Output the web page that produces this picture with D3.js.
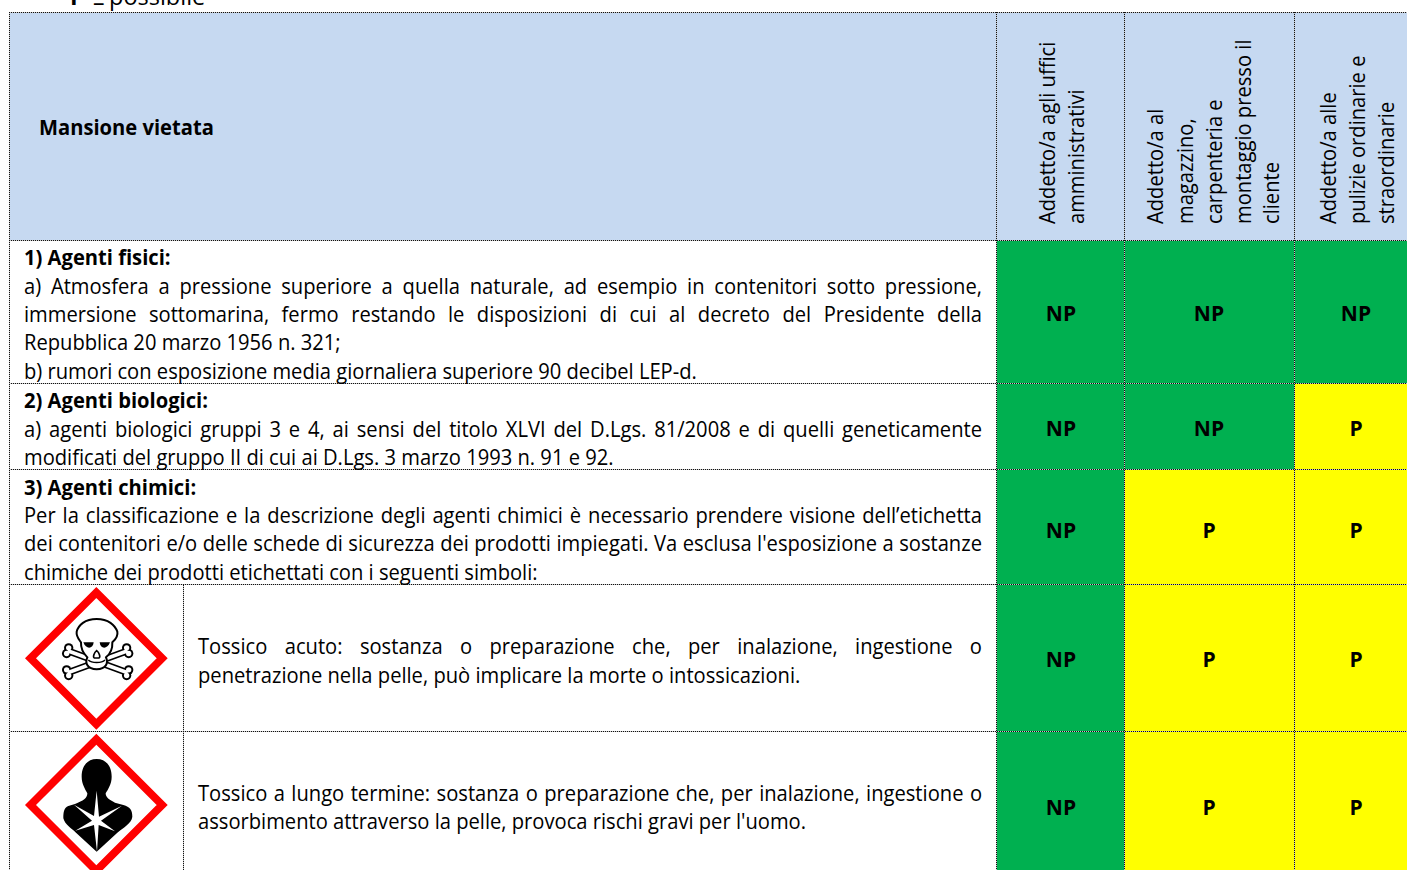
<!DOCTYPE html>
<html><head><meta charset="utf-8">
<script src="https://cdn.jsdelivr.net/npm/d3@7"></script>
<style>html,body{margin:0;padding:0;background:#fff;overflow:hidden}svg{display:block}text{font-family:"Open Sans",sans-serif;fill:#000}</style>
</head><body><svg id="c" width="1407" height="870"></svg>
<script>
// ---- data ----
const hazards = ["Agenti fisici","Agenti biologici","Agenti chimici","Tossico acuto","Tossico a lungo termine"];
const tasks = ["Uffici","Magazzino","Pulizie"];
const ufficiValues = ["NP","NP","NP","NP","NP"];
const magazzinoValues = ["NP","NP","P","P","P"];
const pulizieValues = ["NP","P","P","P","P"];
const taskHeaders = [
  ["Addetto/a agli uffici","amministrativi"],
  ["Addetto/a al","magazzino,","carpenteria e","montaggio presso il","cliente"],
  ["Addetto/a alle","pulizie ordinarie e","straordinarie"]
];
const titleText = "Mansione vietata";
const noteText = ["P","–","possibile"];
// each line: text, bold?, justified?
const bodyLines = [
 ["1) Agenti fisici:",1,0],
 ["a) Atmosfera a pressione superiore a quella naturale, ad esempio in contenitori sotto pressione,",0,1],
 ["immersione sottomarina, fermo restando le disposizioni di cui al decreto del Presidente della",0,1],
 ["Repubblica 20 marzo 1956 n. 321;",0,0],
 ["b) rumori con esposizione media giornaliera superiore 90 decibel LEP-d.",0,0],
 ["2) Agenti biologici:",1,0],
 ["a) agenti biologici gruppi 3 e 4, ai sensi del titolo XLVI del D.Lgs. 81/2008 e di quelli geneticamente",0,1],
 ["modificati del gruppo II di cui ai D.Lgs. 3 marzo 1993 n. 91 e 92.",0,0],
 ["3) Agenti chimici:",1,0],
 ["Per la classificazione e la descrizione degli agenti chimici è necessario prendere visione dell’etichetta",0,1],
 ["dei contenitori e/o delle schede di sicurezza dei prodotti impiegati. Va esclusa l'esposizione a sostanze",0,1],
 ["chimiche dei prodotti etichettati con i seguenti simboli:",0,0]
];
const iconLines = [
 ["Tossico acuto: sostanza o preparazione che, per inalazione, ingestione o",0,1],
 ["penetrazione nella pelle, può implicare la morte o intossicazioni.",0,0],
 ["Tossico a lungo termine: sostanza o preparazione che, per inalazione, ingestione o",0,1],
 ["assorbimento attraverso la pelle, provoca rischi gravi per l'uomo.",0,0]
];

// ---- layout ----
const FS = 21, KN = 0.96, KB = 0.96;
const tLeft = 10, tRight = 1407, tTop = 13, headBottom = 241;
const colEdges = [997,1125,1295,1418];
const rowEdges = [241,384,470,585,732,883];
const bodyBase = [265,294,322,350,379,408,437,465,495,523,551,580];
const iconBase = [654,683,801,829];
const headBase = [[1055,1084],[1163,1193,1222,1251,1279],[1336,1365,1394]];
const svg = d3.select("#c");

const xCol = d3.scaleOrdinal(tasks, colEdges.slice(0,3));
const xColEnd = d3.scaleOrdinal(tasks, colEdges.slice(1));
const yRow = d3.scaleOrdinal(hazards, rowEdges.slice(0,5));
const yRowEnd = d3.scaleOrdinal(hazards, rowEdges.slice(1));
const fill = d3.scaleOrdinal(["NP","P"], ["#00B050","#FFFF00"]);

const cells = tasks.flatMap((t,i)=>[ufficiValues,magazzinoValues,pulizieValues][i].map((v,j)=>({t,h:hazards[j],v})));

svg.append("rect").attr("x",tLeft).attr("y",tTop).attr("width",tRight-tLeft).attr("height",headBottom-tTop).attr("fill","#C6D9F1");
svg.selectAll("rect.cell").data(cells).join("rect").attr("class","cell")
  .attr("x",d=>xCol(d.t)).attr("y",d=>yRow(d.h))
  .attr("width",d=>xColEnd(d.t)-xCol(d.t)).attr("height",d=>yRowEnd(d.h)-yRow(d.h))
  .attr("fill",d=>fill(d.v));

// grid lines: pale base with black dots on top
function gridLine(x1,y1,x2,y2){
  svg.append("line").attr("x1",x1).attr("y1",y1).attr("x2",x2).attr("y2",y2).attr("stroke","#c8c8c8").attr("shape-rendering","crispEdges");
  svg.append("line").attr("x1",x1).attr("y1",y1).attr("x2",x2).attr("y2",y2).attr("stroke","#111").attr("stroke-dasharray","1 1").attr("shape-rendering","crispEdges");
}
[tTop,...rowEdges.slice(0,5)].forEach(d=>gridLine(tLeft-1,d-.5,tRight,d-.5));
[tLeft,...colEdges.slice(0,3)].forEach(d=>gridLine(d-.5,tTop-1,d-.5,870));
gridLine(183.5,rowEdges[3],183.5,870);

// text helper: natural advance scaled by k horizontally, word-spacing stretches justified lines
function line(txt,bold,x,y,target,rot,size){
  const k = bold?KB:KN;
  const t = svg.append("text").attr("font-size",size||FS).attr("font-weight",bold?700:400).text(txt);
  t.attr("transform",rot?`translate(${x},${y}) rotate(-90) scale(${k},1)`:`translate(${x},${y}) scale(${k},1)`);
  if(target){
    const nat = t.node().getComputedTextLength();
    const gaps = txt.split(" ").length-1;
    t.style("word-spacing",((target/k-nat)/gaps)+"px");
  }
  return t;
}
bodyLines.forEach((l,i)=>line(l[0],l[1],24,bodyBase[i],l[2]?958:0));
iconLines.forEach((l,i)=>line(l[0],l[1],198,iconBase[i],l[2]?784:0));
line(titleText,1,39,135);
taskHeaders.forEach((ls,i)=>ls.forEach((s,j)=>line(s,0,headBase[i][j],224,0,true)));
line(noteText[0],1,70,5,0,false,24);
line(noteText[1],0,93,11,0,false,24);
line(noteText[2],0,109,5,0,false,24.5);

// NP / P labels
const colCenters = d3.scaleOrdinal(tasks,[1061,1209,1356]);
const labelY = d3.scaleOrdinal(hazards,[321,436,538,667,815]);
svg.selectAll("text.lab").data(cells).join("text").attr("class","lab")
  .attr("x",d=>colCenters(d.t)).attr("y",d=>labelY(d.h)).attr("text-anchor","middle")
  .attr("font-size",FS).attr("font-weight",700).text(d=>d.v);

// pictograms, drawn in a 3x local space
const ic = svg.append("g").attr("transform","translate(0,580) scale(0.33333)");
ic.append("path").attr("d","M289,37.5 L486.5,235 L289,432.5 L91.5,235 Z")
   .attr("fill","#fff").attr("stroke","#FF0000").attr("stroke-width",23.4);
function bone(x1,y1,x2,y2){
  const d=`M${x1},${y1} L${x2},${y2}`;
  const dx=(x2-x1),dy=(y2-y1),L=Math.hypot(dx,dy),nx=-dy/L*9,ny=dx/L*9;
  const knobs=[[x1+nx,y1+ny],[x1-nx,y1-ny],[x2+nx,y2+ny],[x2-nx,y2-ny]];
  knobs.forEach(p=>ic.append("circle").attr("cx",p[0]).attr("cy",p[1]).attr("r",14).attr("fill","#000"));
  ic.append("path").attr("d",d).attr("stroke","#000").attr("stroke-width",21);
  knobs.forEach(p=>ic.append("circle").attr("cx",p[0]).attr("cy",p[1]).attr("r",8).attr("fill","#fff"));
  ic.append("path").attr("d",d).attr("stroke","#fff").attr("stroke-width",11);
}
bone(203,212,383,278); bone(383,212,203,278);
ic.append("path").attr("d","M290,117 C255,117 235,135 230,155 C228,170 238,180 243,187 C242,205 252,222 262,232 C254,250 262,266 290,268 C318,266 326,250 318,232 C330,222 338,205 337,187 C345,180 355,170 352,155 C345,135 325,117 290,117 Z")
  .attr("fill","#fff").attr("stroke","#000").attr("stroke-width",6);
ic.append("path").attr("d","M250,187 L281,187 C280,207 258,210 250,187 Z M330,187 L299,187 C300,207 322,210 330,187 Z").attr("fill","#000");
ic.append("path").attr("d","M290,212 C282,218 278,232 283,234 L297,234 C302,232 298,218 290,212 Z").attr("fill","#fff").attr("stroke","#000").attr("stroke-width",5);
ic.append("path").attr("d","M265,240 C275,250 305,250 315,240").attr("fill","none").attr("stroke","#000").attr("stroke-width",4);

const ih = svg.append("g").attr("transform","translate(0,580) scale(0.33333)");
ih.append("path").attr("d","M289,477.5 L486.5,675 L289,872.5 L91.5,675 Z").attr("fill","#fff").attr("stroke","#FF0000").attr("stroke-width",23.4);
ih.append("path").attr("d","M290,537 C262,537 245,558 245,590 C245,612 256,628 262,640 C262,655 250,662 225,672 L205,678 C192,684 190,695 190,715 C195,735 215,745 228,758 L290,815 L352,758 C368,745 395,730 397,710 C397,690 390,681 370,675 L345,668 C328,660 317,652 317,640 C324,628 335,612 335,590 C335,558 318,537 290,537 Z").attr("fill","#000");
ih.append("path").attr("d","M290,632 L297,710 L366,677 L303,722 L345,754 L296,735 L291,815 L282,735 L226,752 L276,722 L222,674 L282,708 Z").attr("fill","#fff");
</script></body></html>
